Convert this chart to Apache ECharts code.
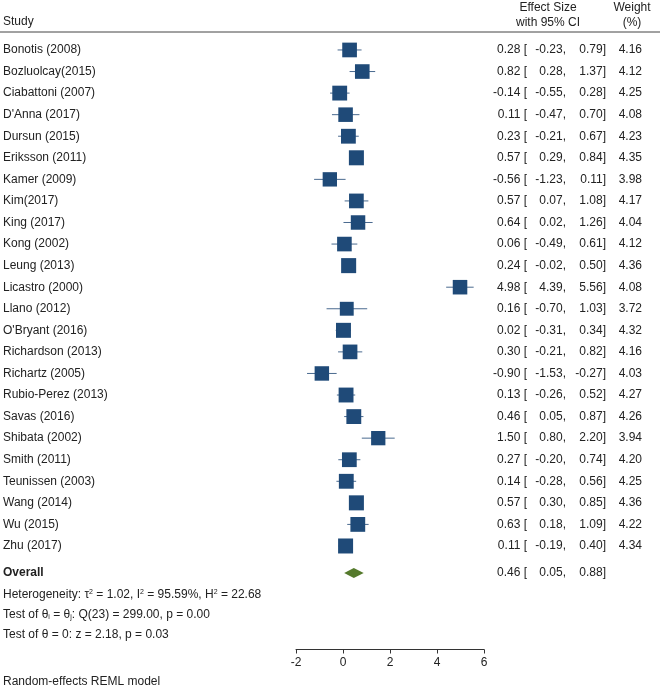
<!DOCTYPE html>
<html>
<head>
<meta charset="utf-8">
<script src="https://cdn.jsdelivr.net/npm/echarts@6/dist/echarts.min.js"></script>
<style>
  html, body { margin: 0; padding: 0; background: #fff; }
  #main { width: 660px; height: 690px; }
</style>
</head>
<body>
<div id="main"></div>
<script>
// studies and their effect sizes
var studies = ['Bonotis (2008)', 'Bozluolcay(2015)', 'Ciabattoni (2007)', "D'Anna (2017)", 'Dursun (2015)',
  'Eriksson (2011)', 'Kamer (2009)', 'Kim(2017)', 'King (2017)', 'Kong (2002)', 'Leung (2013)',
  'Licastro (2000)', 'Llano (2012)', "O'Bryant (2016)", 'Richardson (2013)', 'Richartz (2005)',
  'Rubio-Perez (2013)', 'Savas (2016)', 'Shibata (2002)', 'Smith (2011)', 'Teunissen (2003)',
  'Wang (2014)', 'Wu (2015)', 'Zhu (2017)'];
var effect = [0.28, 0.82, -0.14, 0.11, 0.23, 0.57, -0.56, 0.57, 0.64, 0.06, 0.24, 4.98, 0.16, 0.02,
  0.30, -0.90, 0.13, 0.46, 1.50, 0.27, 0.14, 0.57, 0.63, 0.11];
var lower = [-0.23, 0.28, -0.55, -0.47, -0.21, 0.29, -1.23, 0.07, 0.02, -0.49, -0.02, 4.39, -0.70, -0.31,
  -0.21, -1.53, -0.26, 0.05, 0.80, -0.20, -0.28, 0.30, 0.18, -0.19];
var upper = [0.79, 1.37, 0.28, 0.70, 0.67, 0.84, 0.11, 1.08, 1.26, 0.61, 0.50, 5.56, 1.03, 0.34,
  0.82, -0.27, 0.52, 0.87, 2.20, 0.74, 0.56, 0.85, 1.09, 0.40];
var weight = [4.16, 4.12, 4.25, 4.08, 4.23, 4.35, 3.98, 4.17, 4.04, 4.12, 4.36, 4.08, 3.72, 4.32,
  4.16, 4.03, 4.27, 4.26, 3.94, 4.20, 4.25, 4.36, 4.22, 4.34];
var overall = { effect: 0.46, lower: 0.05, upper: 0.88 };
var xTicks = [-2, 0, 2, 4, 6];

var overallRow = studies.length + 1.25;

var FONT = '12px "Liberation Sans", Arial, sans-serif';
var TXT = '#222';
var BOX = '#1f4a78';
var CI = '#4a6a8f';
var DIAMOND = '#557a2c';

function fmt(v) { return v.toFixed(2); }

var rows = studies.map(function (s, i) {
  return [effect[i], lower[i], upper[i], i + 1, weight[i]];
});

function rowTexts(name, est, lo, hi, w, y, bold) {
  var f = bold ? 'bold ' + FONT : FONT;
  var out = [
    { type: 'text', style: { text: name, x: 3, y: y, textAlign: 'left', textVerticalAlign: 'middle', font: f, fill: TXT } },
    { type: 'text', style: { text: fmt(est) + ' [', x: 527, y: y, textAlign: 'right', textVerticalAlign: 'middle', font: FONT, fill: TXT } },
    { type: 'text', style: { text: fmt(lo) + ',', x: 566, y: y, textAlign: 'right', textVerticalAlign: 'middle', font: FONT, fill: TXT } },
    { type: 'text', style: { text: fmt(hi) + ']', x: 606, y: y, textAlign: 'right', textVerticalAlign: 'middle', font: FONT, fill: TXT } }
  ];
  if (w != null) {
    out.push({ type: 'text', style: { text: fmt(w), x: 642, y: y, textAlign: 'right', textVerticalAlign: 'middle', font: FONT, fill: TXT } });
  }
  return out;
}

var myChart = echarts.init(document.getElementById('main'));

var option = {
  animation: false,
  grid: { left: 296, width: 188, top: 28.4, height: 621.1 },
  xAxis: {
    type: 'value', min: -2, max: 6, interval: 2, position: 'bottom',
    axisLine: { onZero: false, lineStyle: { color: '#333', width: 1 } },
    axisTick: { length: 4, lineStyle: { color: '#333' } },
    axisLabel: { color: TXT, fontSize: 12, fontFamily: '"Liberation Sans", Arial', margin: 7 },
    splitLine: { show: false },
    data: xTicks
  },
  yAxis: {
    type: 'value', min: 0, max: 28.8, inverse: true, show: false
  },
  series: [
    {
      type: 'custom',
      clip: false,
      data: rows,
      renderItem: function (params, api) {
        var est = api.value(0), lo = api.value(1), hi = api.value(2), row = api.value(3), w = api.value(4);
        var c = api.coord([est, row]);
        var a = api.coord([lo, row]);
        var b = api.coord([hi, row]);
        var s = 7.2 * Math.sqrt(w);
        var children = [
          { type: 'line', shape: { x1: a[0], y1: c[1], x2: b[0], y2: c[1] }, style: { stroke: CI, lineWidth: 1 } },
          { type: 'rect', shape: { x: c[0] - s / 2, y: c[1] - s / 2, width: s, height: s }, style: { fill: BOX } }
        ];
        children = children.concat(rowTexts(studies[params.dataIndex], est, lo, hi, w, c[1], false));
        return { type: 'group', children: children };
      }
    },
    {
      type: 'custom',
      clip: false,
      data: [[overall.effect, overall.lower, overall.upper, overallRow]],
      renderItem: function (params, api) {
        var est = api.value(0), lo = api.value(1), hi = api.value(2), row = api.value(3);
        var c = api.coord([est, row]);
        var a = api.coord([lo, row]);
        var b = api.coord([hi, row]);
        var h = 5;
        var children = [
          { type: 'polygon', shape: { points: [[a[0], c[1]], [c[0], c[1] - h], [b[0], c[1]], [c[0], c[1] + h]] }, style: { fill: DIAMOND } }
        ];
        children = children.concat(rowTexts('Overall', est, lo, hi, null, c[1], true));
        return { type: 'group', children: children };
      }
    }
  ],
  graphic: [
    { type: 'text', left: 3, top: 16, style: { text: 'Study', font: FONT, fill: TXT } },
    { type: 'text', x: 548, y: 8, style: { text: 'Effect Size', font: FONT, fill: TXT, textAlign: 'center', textVerticalAlign: 'middle' } },
    { type: 'text', x: 548, y: 23, style: { text: 'with 95% CI', font: FONT, fill: TXT, textAlign: 'center', textVerticalAlign: 'middle' } },
    { type: 'text', x: 632, y: 8, style: { text: 'Weight', font: FONT, fill: TXT, textAlign: 'center', textVerticalAlign: 'middle' } },
    { type: 'text', x: 632, y: 23, style: { text: '(%)', font: FONT, fill: TXT, textAlign: 'center', textVerticalAlign: 'middle' } },
    { type: 'line', shape: { x1: 0, y1: 32, x2: 660, y2: 32 }, style: { stroke: '#444', lineWidth: 1 } },
    {
      type: 'text', x: 3, y: 595,
      style: {
        text: 'Heterogeneity: τ{sup|2} = 1.02, I{sup|2} = 95.59%, H{sup|2} = 22.68',
        font: FONT, fill: TXT, textVerticalAlign: 'middle',
        rich: { sup: { fontSize: 7, verticalAlign: 'top', padding: [0, 0, 6, 0], fill: TXT } }
      }
    },
    {
      type: 'text', x: 3, y: 615,
      style: {
        text: 'Test of θ{sub|i} = θ{sub|j}: Q(23) = 299.00, p = 0.00',
        font: FONT, fill: TXT, textVerticalAlign: 'middle',
        rich: { sub: { fontSize: 7, verticalAlign: 'bottom', padding: [4, 0, 0, 0], fill: TXT } }
      }
    },
    { type: 'text', x: 3, y: 635, style: { text: 'Test of θ = 0: z = 2.18, p = 0.03', font: FONT, fill: TXT, textVerticalAlign: 'middle' } },
    { type: 'text', x: 3, y: 682, style: { text: 'Random-effects REML model', font: FONT, fill: TXT, textVerticalAlign: 'middle' } }
  ]
};

myChart.setOption(option);
</script>
</body>
</html>
